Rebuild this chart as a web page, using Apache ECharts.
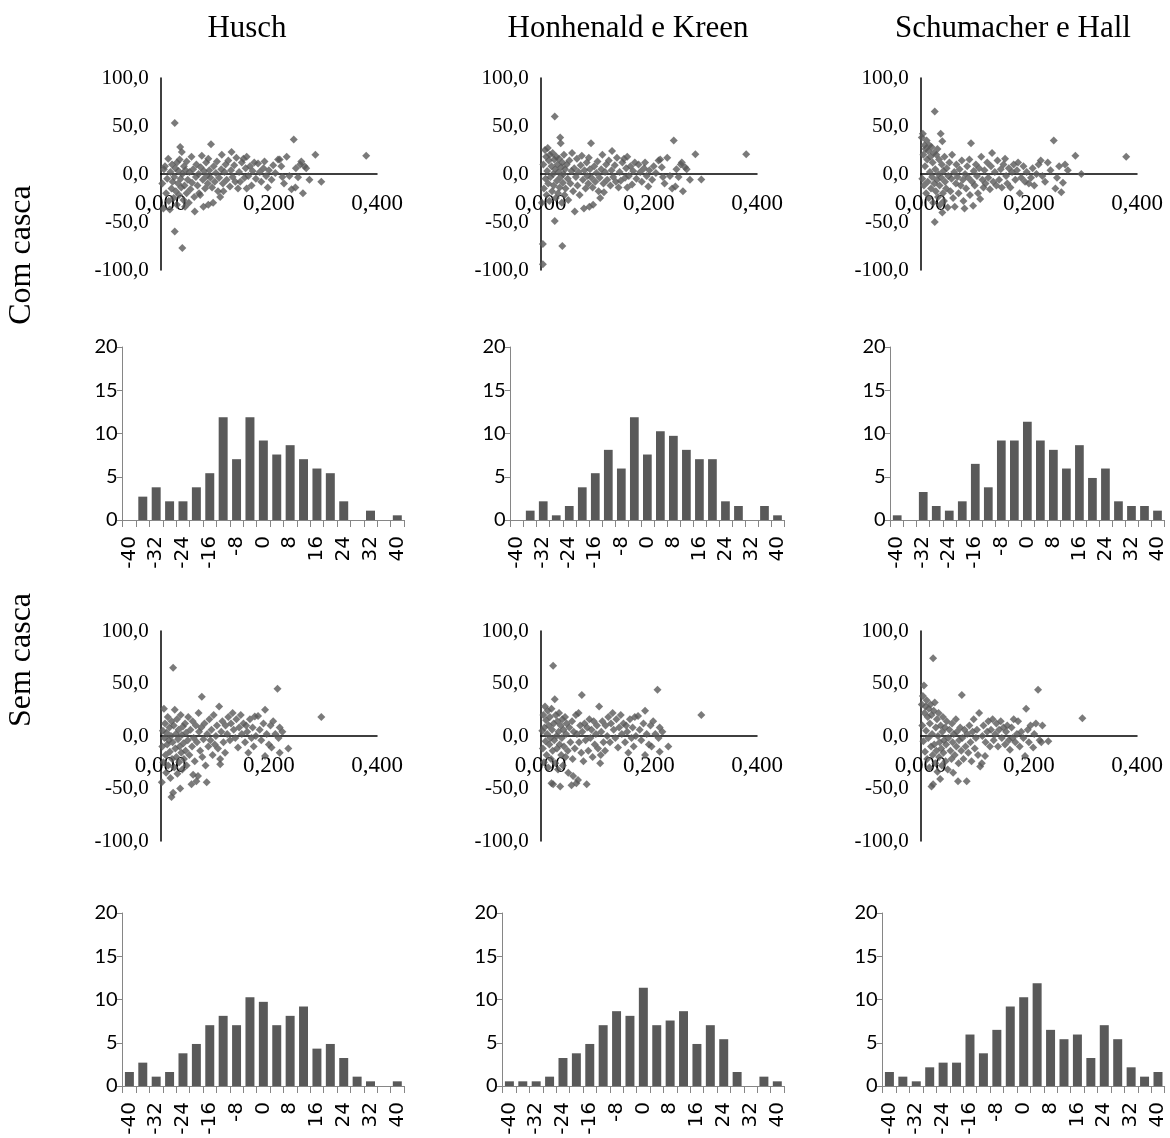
<!DOCTYPE html>
<html>
<head>
<meta charset="utf-8">
<script src="https://cdn.jsdelivr.net/npm/echarts@6/dist/echarts.min.js"></script>
<style>
html,body{margin:0;padding:0;background:#fff;}
#chart{width:1170px;height:1138px;}
</style>
</head>
<body>
<div id="chart"></div>
<script>
// ---------- tick labels / categories ----------
const histCategories = ['-40','-36','-32','-28','-24','-20','-16','-12','-8','-4','0','4','8','12','16','20','24','28','32','36','40'];
const columnTitles = ['Husch', 'Honhenald e Kreen', 'Schumacher e Hall'];
const rowTitles = ['Com casca', 'Sem casca'];

// ---------- histogram values (%) ----------
const histComHusch = [0,2.7,3.78,2.16,2.16,3.78,5.41,11.89,7.03,11.89,9.19,7.57,8.65,7.03,5.95,5.41,2.16,0,1.08,0,0.54];
const histComHK    = [0,1.08,2.16,0.54,1.62,3.78,5.41,8.11,5.95,11.89,7.57,10.27,9.73,8.11,7.03,7.03,2.16,1.62,0,1.62,0.54];
const histComSH    = [0.54,0,3.24,1.62,1.08,2.16,6.49,3.78,9.19,9.19,11.35,9.19,8.11,5.95,8.65,4.86,5.95,2.16,1.62,1.62,1.08];
const histSemHusch = [1.62,2.7,1.08,1.62,3.78,4.86,7.03,8.11,7.03,10.27,9.73,7.03,8.11,9.19,4.32,4.86,3.24,1.08,0.54,0,0.54];
const histSemHK    = [0.54,0.54,0.54,1.08,3.24,3.78,4.86,7.03,8.65,8.11,11.35,7.03,7.57,8.65,4.86,7.03,5.41,1.62,0,1.08,0.54];
const histSemSH    = [1.62,1.08,0.54,2.16,2.7,2.7,5.95,3.78,6.49,9.19,10.27,11.89,6.49,5.41,5.95,3.24,7.03,5.41,2.16,1.08,1.62];

// ---------- scatter values [x, residual %] ----------
const scComHusch = [[0.003,-10],[0.005,-36],[0.006,5],[0.008,8],[0.010,-20],[0.012,-5],[0.014,16],[0.015,-28],[0.017,-37],[0.018,2],[0.020,-15],[0.021,10],[0.022,-8],[0.024,-25],[0.025,-3],[0.026,53],[0.026,-60],[0.027,6],[0.028,-18],[0.030,12],[0.030,-32],[0.032,-10],[0.033,3],[0.034,-22],[0.035,15],[0.036,28],[0.037,-5],[0.038,-14],[0.039,23],[0.040,-77],[0.040,0],[0.042,-27],[0.043,8],[0.044,-12],[0.045,-34],[0.046,4],[0.048,-20],[0.048,13],[0.050,-6],[0.052,-30],[0.053,2],[0.055,-16],[0.057,18],[0.058,-9],[0.060,5],[0.062,-24],[0.063,-39],[0.065,-3],[0.066,10],[0.068,-12],[0.070,0],[0.071,-20],[0.073,-22],[0.074,7],[0.076,19],[0.078,-6],[0.079,-34],[0.080,3],[0.082,-15],[0.084,12],[0.085,-2],[0.087,-10],[0.088,16],[0.088,-32],[0.090,4],[0.092,-4],[0.093,31],[0.095,-14],[0.097,-30],[0.098,8],[0.100,-8],[0.102,1],[0.104,13],[0.106,-18],[0.108,-4],[0.110,-24],[0.112,5],[0.113,20],[0.115,-10],[0.116,-18],[0.118,2],[0.120,10],[0.122,-6],[0.125,14],[0.128,-13],[0.130,4],[0.131,23],[0.133,-3],[0.136,9],[0.138,-8],[0.140,17],[0.143,-15],[0.145,2],[0.147,-8],[0.150,12],[0.153,16],[0.155,-4],[0.157,6],[0.159,18],[0.159,-15],[0.162,-2],[0.165,8],[0.168,-12],[0.170,3],[0.173,12],[0.176,-5],[0.180,11],[0.183,2],[0.186,-8],[0.190,6],[0.192,13],[0.195,-2],[0.198,-14],[0.200,4],[0.205,-6],[0.208,9],[0.212,1],[0.217,15],[0.220,15],[0.223,8],[0.225,-3],[0.228,-10],[0.233,18],[0.238,-2],[0.242,-16],[0.246,36],[0.249,-14],[0.250,6],[0.254,-3.5],[0.258,10],[0.260,13],[0.263,-20],[0.266,8],[0.269,6],[0.275,-6],[0.286,20],[0.297,-8],[0.380,19]];
const scComHK = [[0.002,-30],[0.004,-73],[0.004,-94],[0.005,10],[0.006,-15],[0.008,25],[0.009,-5],[0.010,18],[0.011,-22],[0.012,3],[0.013,27],[0.014,-10],[0.015,14],[0.016,-28],[0.017,20],[0.018,-3],[0.020,8],[0.021,-18],[0.022,22],[0.023,0],[0.024,-12],[0.025,15],[0.026,60],[0.026,-49],[0.027,5],[0.028,-25],[0.029,18],[0.030,-7],[0.031,10],[0.032,-20],[0.033,2],[0.034,16],[0.035,-14],[0.036,38],[0.037,32],[0.037,-3],[0.038,7],[0.039,-30],[0.040,-75],[0.040,12],[0.041,-9],[0.042,0],[0.043,20],[0.044,-22],[0.045,5],[0.046,-15],[0.048,10],[0.050,-5],[0.051,-27],[0.053,14],[0.055,-10],[0.057,3],[0.058,22],[0.060,-18],[0.062,6],[0.063,-39],[0.065,-3],[0.067,16],[0.068,-12],[0.070,2],[0.072,-22],[0.074,9],[0.076,19],[0.078,-6],[0.080,-36],[0.081,4],[0.083,-15],[0.085,12],[0.086,-2],[0.088,-10],[0.089,17],[0.090,-34],[0.091,5],[0.093,32],[0.094,-4],[0.096,-14],[0.097,-32],[0.099,8],[0.101,-8],[0.103,1],[0.105,13],[0.107,-18],[0.109,-4],[0.110,-25],[0.112,5],[0.114,20],[0.116,-10],[0.117,-19],[0.119,2],[0.121,10],[0.123,-6],[0.126,14],[0.129,-12],[0.131,4],[0.132,24],[0.134,-3],[0.137,9],[0.139,-8],[0.141,17],[0.144,-14],[0.146,2],[0.148,-7],[0.151,12],[0.154,16],[0.156,-4],[0.158,6],[0.160,18],[0.160,-14],[0.163,-2],[0.166,8],[0.169,-11],[0.171,3],[0.174,12],[0.177,-5],[0.181,10],[0.184,2],[0.187,-8],[0.191,6],[0.193,12],[0.196,-2],[0.199,-13],[0.201,4],[0.206,-6],[0.209,8],[0.213,1],[0.218,14],[0.221,15],[0.224,7],[0.226,-3],[0.229,-10],[0.234,17],[0.239,-2],[0.243,-15],[0.246,35],[0.249,-13],[0.251,5],[0.255,-3],[0.259,10],[0.261,12],[0.263,-18],[0.267,7],[0.270,5],[0.276,-6],[0.286,20.5],[0.297,-5.6],[0.380,20.5]];
const scComSH = [[0.002,38],[0.003,-5],[0.004,42],[0.005,20],[0.006,-12],[0.007,30],[0.008,8],[0.009,26],[0.010,-20],[0.011,35],[0.012,15],[0.013,-8],[0.014,24],[0.015,-25],[0.016,30],[0.017,2],[0.018,18],[0.019,-15],[0.020,28],[0.021,-3],[0.022,12],[0.023,-30],[0.024,22],[0.025,-10],[0.026,65],[0.026,-50],[0.027,5],[0.028,-18],[0.029,20],[0.030,-6],[0.031,26],[0.032,-24],[0.033,0],[0.034,15],[0.035,-12],[0.036,-32],[0.037,42],[0.038,-4],[0.039,10],[0.040,34],[0.040,-40],[0.041,-20],[0.042,3],[0.043,-28],[0.044,18],[0.045,-8],[0.047,-15],[0.048,6],[0.050,-35],[0.051,-2],[0.053,12],[0.055,-18],[0.057,-5],[0.058,20],[0.060,-25],[0.062,2],[0.063,-34],[0.065,-10],[0.066,10],[0.068,-3],[0.070,-20],[0.072,5],[0.074,-12],[0.076,14],[0.078,-6],[0.079,-28],[0.081,-36],[0.082,0],[0.084,-15],[0.086,8],[0.088,-4],[0.090,15],[0.091,-22],[0.093,32],[0.095,-8],[0.097,-33],[0.098,3],[0.100,-12],[0.102,10],[0.104,-2],[0.106,-20],[0.108,6],[0.110,-26],[0.112,18],[0.114,-6],[0.116,-14],[0.118,4],[0.120,-10],[0.123,12],[0.125,-4],[0.128,-16],[0.130,8],[0.132,22],[0.134,-8],[0.137,2],[0.140,-12],[0.142,14],[0.145,-6],[0.148,5],[0.150,-14],[0.153,10],[0.156,16],[0.158,-2],[0.160,-10],[0.163,6],[0.166,-14],[0.169,2],[0.172,10],[0.175,-6],[0.178,4],[0.180,12],[0.183,-20],[0.186,-4],[0.190,8],[0.193,-8],[0.196,2],[0.200,-10],[0.204,-4],[0.207,6],[0.210,-12],[0.214,0],[0.218,10],[0.222,14],[0.225,-2],[0.230,-8],[0.235,12],[0.240,4],[0.246,35],[0.249,-15],[0.252,-4],[0.256,8],[0.260,-19],[0.263,-9],[0.267,10],[0.272,4],[0.286,19],[0.297,0],[0.380,18]];
const scSemHusch = [[0.002,-44],[0.003,-10],[0.004,5],[0.005,-25],[0.006,26],[0.007,-2],[0.008,12],[0.009,-18],[0.010,-35],[0.011,3],[0.012,-8],[0.013,18],[0.014,-28],[0.015,-4],[0.016,8],[0.017,-15],[0.018,-40],[0.019,0],[0.020,-58],[0.020,14],[0.021,-22],[0.022,-6],[0.023,65],[0.023,-54],[0.024,10],[0.025,-30],[0.026,25],[0.027,-12],[0.028,2],[0.029,-20],[0.030,16],[0.031,-36],[0.032,-3],[0.033,6],[0.034,-25],[0.035,-10],[0.036,-50],[0.037,20],[0.038,-16],[0.039,1],[0.040,-32],[0.041,9],[0.042,-7],[0.043,-22],[0.045,12],[0.046,-14],[0.047,3],[0.048,-28],[0.050,-4],[0.051,18],[0.053,-18],[0.055,6],[0.057,-46],[0.058,-10],[0.059,14],[0.060,-37],[0.061,-2],[0.063,-24],[0.065,10],[0.066,-43],[0.067,-6],[0.069,-38],[0.070,22],[0.071,4],[0.073,-14],[0.075,8],[0.076,37.5],[0.077,-20],[0.079,-3],[0.081,12],[0.083,-28],[0.085,-44],[0.086,2],[0.088,-10],[0.090,16],[0.092,-4],[0.094,6],[0.096,-18],[0.098,20],[0.100,-8],[0.102,0],[0.104,10],[0.106,-12],[0.108,28],[0.110,-27],[0.110,-22],[0.112,4],[0.114,14],[0.116,-6],[0.119,-16],[0.120,10],[0.123,2],[0.125,18],[0.128,-4],[0.130,12],[0.133,22],[0.135,6],[0.138,-2],[0.140,16],[0.143,-11],[0.145,8],[0.148,20],[0.150,2],[0.153,12],[0.156,-6],[0.158,10],[0.160,4],[0.162,-16],[0.165,16],[0.168,-2],[0.170,8],[0.172,-10],[0.174,18.6],[0.176,0],[0.180,19],[0.183,6],[0.186,-4],[0.190,12],[0.193,25],[0.193,-19],[0.196,2],[0.200,-8],[0.203,10],[0.205,-11],[0.208,14],[0.212,2],[0.216,45],[0.218,-2],[0.220,8],[0.220,-16],[0.225,4],[0.236,-12],[0.297,18]];
const scSemHK = [[0.003,5],[0.004,-12],[0.005,20],[0.006,-25],[0.007,8],[0.008,28],[0.009,-5],[0.010,15],[0.011,-18],[0.012,2],[0.013,24],[0.014,-30],[0.015,10],[0.016,-8],[0.017,18],[0.018,-2],[0.019,-22],[0.020,-45],[0.020,26],[0.021,6],[0.022,-14],[0.023,67],[0.023,-46],[0.024,12],[0.025,-4],[0.026,35],[0.027,-26],[0.028,20],[0.029,0],[0.030,-12],[0.031,14],[0.032,-32],[0.033,4],[0.034,22],[0.035,-8],[0.036,-48],[0.037,10],[0.038,-18],[0.039,-2],[0.040,16],[0.041,-28],[0.042,6],[0.043,-10],[0.045,18],[0.046,-20],[0.047,2],[0.048,12],[0.050,-14],[0.051,-35],[0.053,8],[0.055,-6],[0.057,-47],[0.058,14],[0.059,-22],[0.060,-38],[0.061,4],[0.063,-12],[0.065,20],[0.066,-45],[0.067,2],[0.069,-42],[0.070,22],[0.071,-6],[0.073,10],[0.075,-16],[0.076,39],[0.077,4],[0.079,-24],[0.081,12],[0.083,-4],[0.085,-46],[0.086,8],[0.088,-14],[0.090,16],[0.092,-2],[0.094,6],[0.096,-20],[0.098,14],[0.100,-8],[0.102,2],[0.104,10],[0.106,-12],[0.108,28],[0.110,-26],[0.111,-18],[0.112,4],[0.114,14],[0.116,-6],[0.119,-14],[0.120,10],[0.123,0],[0.125,18],[0.128,-6],[0.130,12],[0.133,22],[0.135,6],[0.138,-2],[0.140,16],[0.143,-11],[0.145,8],[0.148,20],[0.150,2],[0.153,12],[0.156,-6],[0.158,10],[0.160,4],[0.162,-16],[0.165,16],[0.168,-2],[0.170,8],[0.172,-10],[0.174,18],[0.176,0],[0.180,19],[0.183,6],[0.186,-4],[0.190,12],[0.193,24],[0.193,-18],[0.196,2],[0.200,-8],[0.203,10],[0.205,-10],[0.208,14],[0.212,2],[0.216,44],[0.218,-2],[0.220,8],[0.220,-15],[0.225,4],[0.236,-10],[0.297,20]];
const scSemSH = [[0.002,30],[0.003,10],[0.004,38],[0.005,-5],[0.006,48],[0.007,22],[0.008,-15],[0.009,28],[0.010,5],[0.011,34],[0.012,-22],[0.013,18],[0.014,-2],[0.015,26],[0.016,-30],[0.017,12],[0.018,30],[0.019,-10],[0.020,-48],[0.020,20],[0.021,2],[0.022,-18],[0.023,74],[0.023,-46],[0.024,24],[0.025,-8],[0.026,32],[0.027,-26],[0.028,8],[0.029,-14],[0.030,16],[0.031,-34],[0.032,0],[0.033,22],[0.034,-20],[0.035,-6],[0.036,-41],[0.037,10],[0.038,-12],[0.039,-28],[0.040,4],[0.041,18],[0.042,-16],[0.043,-4],[0.045,8],[0.046,-24],[0.047,-8],[0.048,14],[0.050,-32],[0.051,-2],[0.053,6],[0.055,-14],[0.057,-22],[0.058,12],[0.059,-6],[0.060,-35],[0.061,2],[0.063,-18],[0.065,16],[0.066,-10],[0.067,4],[0.069,-43],[0.070,-26],[0.071,-4],[0.073,8],[0.075,-14],[0.076,39],[0.077,-2],[0.079,-22],[0.081,6],[0.083,-10],[0.085,-43],[0.086,2],[0.088,-16],[0.090,10],[0.092,-6],[0.094,-24],[0.096,4],[0.098,16],[0.100,-12],[0.102,-2],[0.104,6],[0.106,-18],[0.108,22],[0.110,-29],[0.113,-26],[0.114,0],[0.116,10],[0.119,-19],[0.120,-6],[0.123,4],[0.125,14],[0.128,-10],[0.130,6],[0.133,16],[0.135,-4],[0.138,2],[0.140,12],[0.143,-10],[0.145,6],[0.148,14],[0.150,-2],[0.153,8],[0.156,-8],[0.158,4],[0.160,10],[0.163,-4],[0.165,-13],[0.168,8],[0.170,-2],[0.172,16],[0.175,-6],[0.178,2],[0.180,14],[0.183,-10],[0.186,4],[0.190,-2],[0.193,-19],[0.195,26],[0.198,6],[0.200,-6],[0.203,10],[0.208,-11],[0.210,2],[0.213,12],[0.217,44],[0.220,-4],[0.223,-6],[0.225,10],[0.236,-5],[0.299,17]];

// ---------- layout ----------
const SERIF = '"Liberation Serif", "Times New Roman", serif';
const GREY = '#595959';
const AXISGREY = '#868686';

const scatterPanels = [
  {data: scComHusch, left:160.7, top:78,  width:216.3, height:192},
  {data: scComHK,    left:540.7, top:78,  width:216.3, height:192},
  {data: scComSH,    left:920.7, top:78,  width:216.3, height:192},
  {data: scSemHusch, left:160.7, top:631, width:216.3, height:210},
  {data: scSemHK,    left:540.7, top:631, width:216.3, height:210},
  {data: scSemSH,    left:920.7, top:631, width:216.3, height:210}
];
const histPanels = [
  {data: histComHusch, left:122.7, top:347, width:281.3, height:173},
  {data: histComHK,    left:510.7, top:347, width:273.3, height:173},
  {data: histComSH,    left:890.7, top:347, width:273.3, height:173},
  {data: histSemHusch, left:122.7, top:913, width:281.3, height:173},
  {data: histSemHK,    left:502.7, top:913, width:281.3, height:173},
  {data: histSemSH,    left:882.7, top:913, width:282,   height:173}
];

const grid = [], xAxis = [], yAxis = [], series = [];
scatterPanels.forEach(p => {
  const gi = grid.length;
  grid.push({left:p.left, top:p.top, width:p.width, height:p.height, containLabel:false});
  xAxis.push({
    type:'value', gridIndex:gi, min:0, max:0.4, interval:0.2,
    position:'bottom', offset:-p.height / 2,
    axisLine:{show:true, onZero:false, lineStyle:{color:'#000', width:1.5}},
    axisTick:{show:false}, splitLine:{show:false},
    axisLabel:{formatter:v => v.toFixed(3).replace('.', ','), fontFamily:SERIF, fontSize:23, color:'#000', margin:18, showMinLabel:true, showMaxLabel:true}
  });
  yAxis.push({
    type:'value', gridIndex:gi, min:-100, max:100, interval:50,
    axisLine:{show:true, onZero:false, lineStyle:{color:'#000', width:1.5}},
    axisTick:{show:false}, splitLine:{show:false},
    axisLabel:{formatter:v => v.toFixed(1).replace('.', ','), fontFamily:SERIF, fontSize:21, color:'#000', margin:12}
  });
  series.push({
    type:'scatter', xAxisIndex:gi, yAxisIndex:gi, data:p.data,
    symbol:'diamond', symbolSize:8, itemStyle:{color:GREY}, silent:true, z:1
  });
});
histPanels.forEach(p => {
  const gi = grid.length;
  grid.push({left:p.left, top:p.top, width:p.width, height:p.height, containLabel:false});
  xAxis.push({
    type:'category', gridIndex:gi, data:histCategories, boundaryGap:true,
    axisLine:{show:true, lineStyle:{color:AXISGREY, width:1}},
    axisTick:{show:true, interval:0, length:7, lineStyle:{color:AXISGREY}},
    splitLine:{show:false},
    axisLabel:{interval:1, rotate:90, fontFamily:'"DejaVu Sans", sans-serif', fontSize:20, color:'#000', margin:16}
  });
  yAxis.push({
    type:'value', gridIndex:gi, min:0, max:20, interval:5,
    axisLine:{show:true, lineStyle:{color:AXISGREY, width:1}},
    axisTick:{show:true, length:6, lineStyle:{color:AXISGREY}},
    splitLine:{show:false},
    axisLabel:{fontFamily:'Lato, "Open Sans", sans-serif', fontSize:20, color:'#000', margin:5}
  });
  series.push({
    type:'bar', xAxisIndex:gi, yAxisIndex:gi, data:p.data,
    barCategoryGap:'33%', itemStyle:{color:GREY}, silent:true
  });
});

const titleX = [247, 628, 1013];
const rowY = [255, 660];
const graphic = [];
columnTitles.forEach((t, i) => {
  graphic.push({type:'text', x:titleX[i], y:29, style:{text:t, font:'31px ' + SERIF, fill:'#000', textAlign:'center', textVerticalAlign:'middle'}});
});
rowTitles.forEach((t, i) => {
  graphic.push({type:'text', x:22, y:rowY[i], rotation:Math.PI/2, style:{text:t, font:'32px ' + SERIF, fill:'#000', textAlign:'center', textVerticalAlign:'middle'}});
});

const chart = echarts.init(document.getElementById('chart'), null, {renderer:'canvas'});
chart.setOption({
  animation:false,
  backgroundColor:'#fff',
  grid, xAxis, yAxis, series, graphic
});
</script>
</body>
</html>
